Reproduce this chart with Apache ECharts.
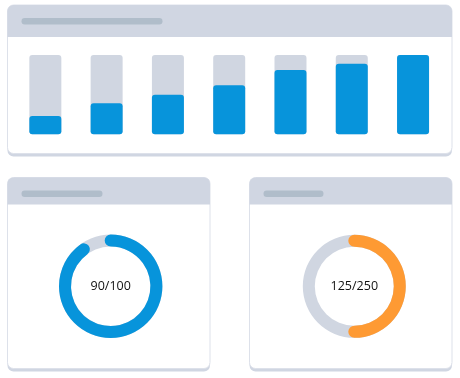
<!DOCTYPE html>
<html><head><meta charset="utf-8">
<script src="https://cdn.jsdelivr.net/npm/echarts@6/dist/echarts.min.js"></script>
<style>html,body{margin:0;padding:0;background:#fff}#c{width:460px;height:378px}</style>
</head><body><div id="c"></div>
<script>
const categories = ['1','2','3','4','5','6','7'];
const barValues = [23, 39, 50, 62, 81, 89, 100];
const barMax = 100;
const gaugeValues = [90, 125];
const gaugeMaxes = [100, 250];
const gaugeLabels = ['90/100', '125/250'];

const BLUE = '#0794db', ORANGE = '#fe9a33', TRACK = '#d0d6e1', HEAD = '#d0d6e2', PILL = '#b0bdca', EDGE = '#dde1ea';

function card(x, y, w, h, hh, pw) {
  return [
    {type:'rect', shape:{x:x, y:y+3, width:w, height:h, r:6}, style:{fill:HEAD}, z:-10},
    {type:'rect', shape:{x:x, y:y, width:w, height:h, r:6}, style:{fill:'#fff', stroke:EDGE, lineWidth:1}, z:-9},
    {type:'rect', shape:{x:x, y:y, width:w, height:hh, r:[6,6,0,0]}, style:{fill:HEAD}, z:-8},
    {type:'rect', shape:{x:x+14, y:y+13, width:pw, height:6.5, r:3.25}, style:{fill:PILL}, z:-7}
  ];
}

const detailStyle = {offsetCenter:[0,0], fontSize:12.5, fontFamily:'Open Sans', color:'#111', fontWeight:'normal'};

const chart = echarts.init(document.getElementById('c'), null, {renderer:'canvas'});
chart.setOption({
  animation:false,
  graphic: [].concat(
    card(7.5, 5, 444.5, 148.5, 32, 141),
    card(7.5, 177.5, 202.5, 191, 27, 81),
    card(249.5, 177.5, 202.5, 191, 27, 60)
  ),
  grid:{left:14.7, right:16.3, top:55, height:79.3},
  xAxis:{type:'category', data:categories, show:false},
  yAxis:{type:'value', min:0, max:barMax, show:false},
  series:[
    {type:'bar', data:barValues, barWidth:32, showBackground:true,
     backgroundStyle:{color:TRACK, borderRadius:3},
     itemStyle:{color:BLUE, borderRadius:3}},
    {type:'gauge', center:[110.7, 286.3], radius:51.7, startAngle:90, endAngle:-270,
     min:0, max:gaugeMaxes[0],
     axisLine:{lineStyle:{width:12, color:[[1,TRACK]]}},
     progress:{show:true, width:12, roundCap:true, itemStyle:{color:BLUE}},
     pointer:{show:false}, axisTick:{show:false}, splitLine:{show:false}, axisLabel:{show:false}, anchor:{show:false}, title:{show:false},
     detail:Object.assign({formatter:()=>gaugeLabels[0]}, detailStyle),
     data:[{value:gaugeValues[0]}]},
    {type:'gauge', center:[354.3, 286.3], radius:51.5, startAngle:90, endAngle:-270,
     min:0, max:gaugeMaxes[1],
     axisLine:{lineStyle:{width:12, color:[[1,TRACK]]}},
     progress:{show:true, width:12, roundCap:true, itemStyle:{color:ORANGE}},
     pointer:{show:false}, axisTick:{show:false}, splitLine:{show:false}, axisLabel:{show:false}, anchor:{show:false}, title:{show:false},
     detail:Object.assign({formatter:()=>gaugeLabels[1]}, detailStyle),
     data:[{value:gaugeValues[1]}]}
  ]
});
</script></body></html>
